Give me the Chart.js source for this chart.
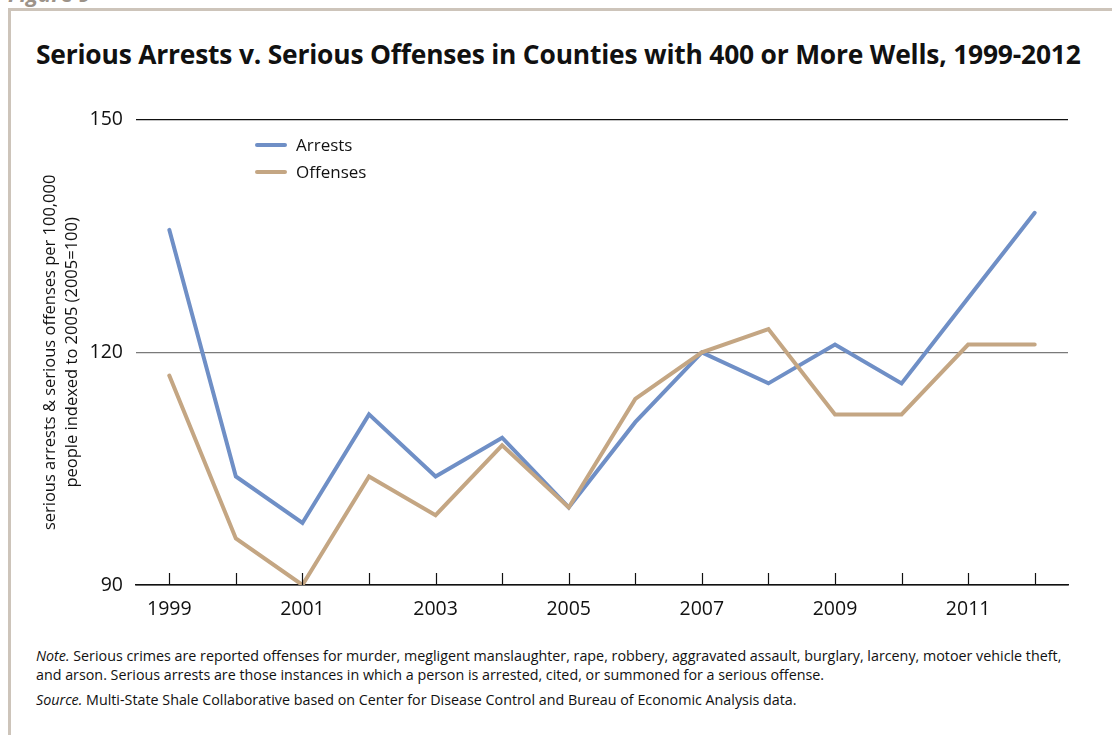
<!DOCTYPE html>
<html>
<head>
<meta charset="utf-8">
<script src="https://cdn.jsdelivr.net/npm/chart.js@4"></script>
<style>
  html, body { margin: 0; padding: 0; background: #fff; }
  body { width: 1112px; height: 735px; position: relative; overflow: hidden; font-family: "Open Sans", sans-serif; color: #111; }
  .fig-label { position: absolute; left: 8px; top: -22px; font-size: 22px; font-weight: bold; font-style: italic; color: #9c9288; }
  .frame-top { position: absolute; left: 8px; top: 8px; width: 1104px; height: 3px; background: #cdc4ba; }
  .frame-left { position: absolute; left: 8px; top: 8px; width: 3px; height: 727px; background: #cdc4ba; }
  .title { position: absolute; left: 36px; top: 36px; font-size: 26.4px; font-weight: bold; color: #111; white-space: nowrap; letter-spacing: -0.2px; }
  .chart-box { position: absolute; left: 20px; top: 95px; width: 1070px; height: 545px; }
  .legend { position: absolute; left: 255px; top: 131px; font-size: 17px; }
  .legend div { height: 27px; display: flex; align-items: center; }
  .legend span.sw { display: inline-block; width: 32px; height: 4px; border-radius: 2px; margin-right: 9px; }
  .notes { position: absolute; left: 36px; top: 646px; font-size: 14.3px; line-height: 19px; color: #111; }
  .notes p { margin: 0 0 6px 0; }
</style>
</head>
<body>
<div class="fig-label">Figure 9</div>
<div class="frame-top"></div>
<div class="frame-left"></div>
<div class="title">Serious Arrests v. Serious Offenses in Counties with 400 or More Wells, 1999-2012</div>
<div class="chart-box"><canvas id="crimeChart"></canvas></div>
<div class="legend">
  <div><span class="sw" style="background:#6f8fc6"></span>Arrests</div>
  <div><span class="sw" style="background:#c4a683"></span>Offenses</div>
</div>
<div class="notes">
  <p><i>Note.</i> Serious crimes are reported offenses for murder, megligent manslaughter, rape, robbery, aggravated assault, burglary, larceny, motoer vehicle theft,<br>and arson. Serious arrests are those instances in which a person is arrested, cited, or summoned for a serious offense.</p>
  <p><i>Source.</i> Multi-State Shale Collaborative based on Center for Disease Control and Bureau of Economic Analysis data.</p>
</div>
<script>
document.addEventListener('DOMContentLoaded', () => {

  const years = ['1999','2000','2001','2002','2003','2004','2005','2006','2007','2008','2009','2010','2011','2012'];
  const arrests = [135.8, 104, 98, 112, 104, 109, 100, 111, 120, 116, 121, 116, 127, 138];
  const offenses = [117, 96, 90, 104, 99, 108, 100, 114, 120, 123, 112, 112, 121, 121];
  const yTicks = [90, 120, 150];

  // tick marks pointing up from the x axis
  const upTicks = {
    id: 'upTicks',
    afterDraw(chart){
      const x = chart.scales.x, y = chart.scales.y;
      const c = chart.ctx;
      const base = y.getPixelForValue(90);
      c.save();
      c.strokeStyle = '#111';
      c.lineWidth = 1.2;
      years.forEach((yr, i) => {
        const px = Math.round(x.getPixelForValue(i)) + 0.5;
        c.beginPath();
        c.moveTo(px, base);
        c.lineTo(px, base - 12);
        c.stroke();
      });
      c.restore();
    }
  };

  const ctx = document.getElementById('crimeChart').getContext('2d');
  new Chart(ctx, {
    type: 'line',
    data: {
      labels: years,
      datasets: [
        { label: 'Offenses', data: offenses, borderColor: '#c4a683', borderWidth: 4, pointRadius: 0, tension: 0, borderCapStyle: 'round', borderJoinStyle: 'miter' },
        { label: 'Arrests', data: arrests, borderColor: '#6f8fc6', borderWidth: 4, pointRadius: 0, tension: 0, borderCapStyle: 'round', borderJoinStyle: 'miter' }
      ]
    },
    options: {
      responsive: true,
      maintainAspectRatio: false,
      animation: false,
      layout: { padding: { top: 14, right: 22, left: 19, bottom: 0 } },
      plugins: { legend: { display: false }, tooltip: { enabled: false } },
      scales: {
        x: {
          offset: true,
          grid: { display: false },
          border: { display: true, color: '#111', width: 1.5 },
          ticks: {
            autoSkip: false, maxRotation: 0, padding: 5,
            color: '#111', font: { family: 'Open Sans', size: 19.5 },
            callback: (v, i) => i % 2 === 0 ? years[i] : ''
          },
          afterFit: s => { s.height = 55; }
        },
        y: {
          min: 90, max: 150,
          afterBuildTicks: s => { s.ticks = yTicks.map(v => ({ value: v })); },
          border: { display: false },
          grid: {
            drawTicks: false,
            lineWidth: 1.2,
            color: c => c.tick && c.tick.value === 120 ? '#7a7a7a' : '#111'
          },
          ticks: { padding: 13, color: '#111', font: { family: 'Open Sans', size: 19.5 } },
          title: {
            display: true,
            text: ['serious arrests & serious offenses per 100,000', 'people indexed to 2005 (2005=100)'],
            color: '#111',
            font: { family: 'Open Sans', size: 16.5, lineHeight: 1.35 },
            padding: { top: 0, bottom: 0 }
          },
          afterFit: s => { s.width = 97; }
        }
      }
    },
    plugins: [upTicks]
  });

});
</script>
</body>
</html>
